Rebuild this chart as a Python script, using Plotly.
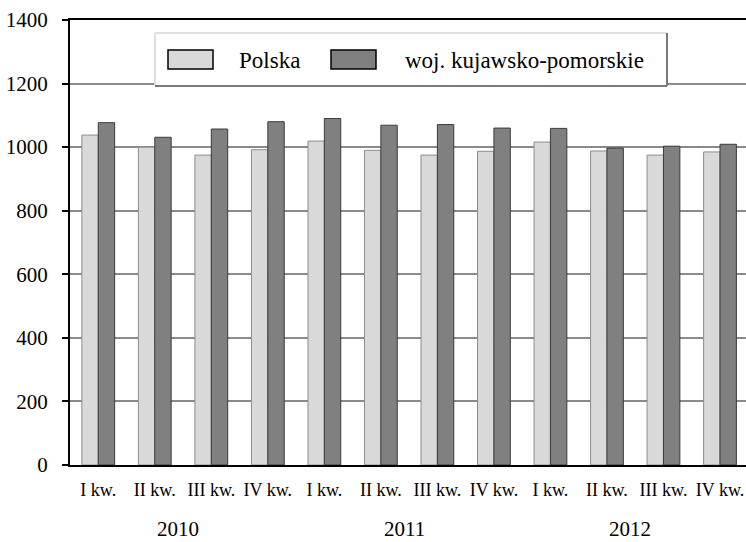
import plotly.graph_objects as go

quarters = ["I kw.", "II kw.", "III kw.", "IV kw."] * 3
years = ["2010", "2011", "2012"]
series_names = ["Polska", "woj. kujawsko-pomorskie"]
polska = [1038, 1000, 975, 992, 1019, 990, 975, 987, 1016, 988, 975, 985]
kujawsko = [1077, 1031, 1057, 1080, 1090, 1069, 1071, 1060, 1059, 997, 1003, 1009]
y_ticks = [0, 200, 400, 600, 800, 1000, 1200, 1400]

W, H = 746, 542
ML, MR, MT, MB = 70, 0, 20, 77
PW, PH = W - ML - MR, H - MT - MB

def px(x):
    return (x - ML) / PW

def py(y):
    return (H - MB - y) / PH

FONT = "Liberation Serif, Times New Roman, serif"
xs = list(range(len(quarters)))

fig = go.Figure()
fig.add_trace(go.Bar(x=xs, y=polska, name=series_names[0],
                     marker=dict(color="#d9d9d9", line=dict(color="#8c8c8c", width=1))))
fig.add_trace(go.Bar(x=xs, y=kujawsko, name=series_names[1],
                     marker=dict(color="#808080", line=dict(color="#3a3a3a", width=1))))

shapes = []
annotations = []
# legend box
L, R, T, B = 155, 667, 33, 86
shapes.append(dict(type="rect", xref="paper", yref="paper", x0=px(L), x1=px(R), y0=py(B), y1=py(T),
                   fillcolor="white", line=dict(width=0), layer="above"))
shapes.append(dict(type="line", xref="paper", yref="paper", x0=px(L), x1=px(R), y0=py(T), y1=py(T),
                   line=dict(color="#dedede", width=2), layer="above"))
shapes.append(dict(type="line", xref="paper", yref="paper", x0=px(L), x1=px(L), y0=py(B), y1=py(T),
                   line=dict(color="#dedede", width=2), layer="above"))
shapes.append(dict(type="line", xref="paper", yref="paper", x0=px(L), x1=px(R), y0=py(B), y1=py(B),
                   line=dict(color="#7a7a7a", width=2), layer="above"))
shapes.append(dict(type="line", xref="paper", yref="paper", x0=px(R), x1=px(R), y0=py(B), y1=py(T),
                   line=dict(color="#7a7a7a", width=2), layer="above"))
sw = [(168, 237, "#d9d9d9"), (331, 403, "#808080")]
for (sx, tx, col), name in zip(sw, series_names):
    shapes.append(dict(type="rect", xref="paper", yref="paper", x0=px(sx), x1=px(sx + 45),
                       y0=py(69), y1=py(50), fillcolor=col, line=dict(color="black", width=1.5),
                       layer="above"))
    annotations.append(dict(text=name, xref="paper", yref="paper", x=px(tx), y=py(60),
                            xanchor="left", yanchor="middle", showarrow=False,
                            font=dict(family=FONT, size=23, color="black")))

# year labels
for i, yr in enumerate(years):
    annotations.append(dict(text=yr, xref="x", yref="paper", x=4 * i + 1.41, y=py(529),
                            xanchor="center", yanchor="middle", showarrow=False,
                            font=dict(family=FONT, size=21, color="black")))

fig.update_layout(
    width=W, height=H,
    margin=dict(l=ML, r=MR, t=MT, b=MB, pad=0),
    paper_bgcolor="white", plot_bgcolor="white",
    barmode="group", bargap=0.42, bargroupgap=0,
    showlegend=False,
    font=dict(family=FONT, size=20, color="black"),
    shapes=shapes, annotations=annotations,
    xaxis=dict(tickmode="array", tickvals=xs, ticktext=quarters,
               range=[-0.5, 11.46], showgrid=False, zeroline=False,
               showline=True, linecolor="black", linewidth=2, mirror=True,
               ticks="", tickfont=dict(family=FONT, size=18, color="black"),
               ticklabelstandoff=7),
    yaxis=dict(range=[0, 1400], tickvals=y_ticks, showgrid=True, gridcolor="#8a8a8a",
               gridwidth=2, zeroline=False, showline=True, linecolor="black", linewidth=2,
               ticks="outside", ticklen=6, tickcolor="black", tickwidth=1.5,
               tickfont=dict(family=FONT, size=21, color="black"), ticklabelstandoff=10),
)

fig.write_html("out.html", config={"displayModeBar": False},
               post_script="document.body.style.margin='0';document.body.style.overflow='hidden';")
